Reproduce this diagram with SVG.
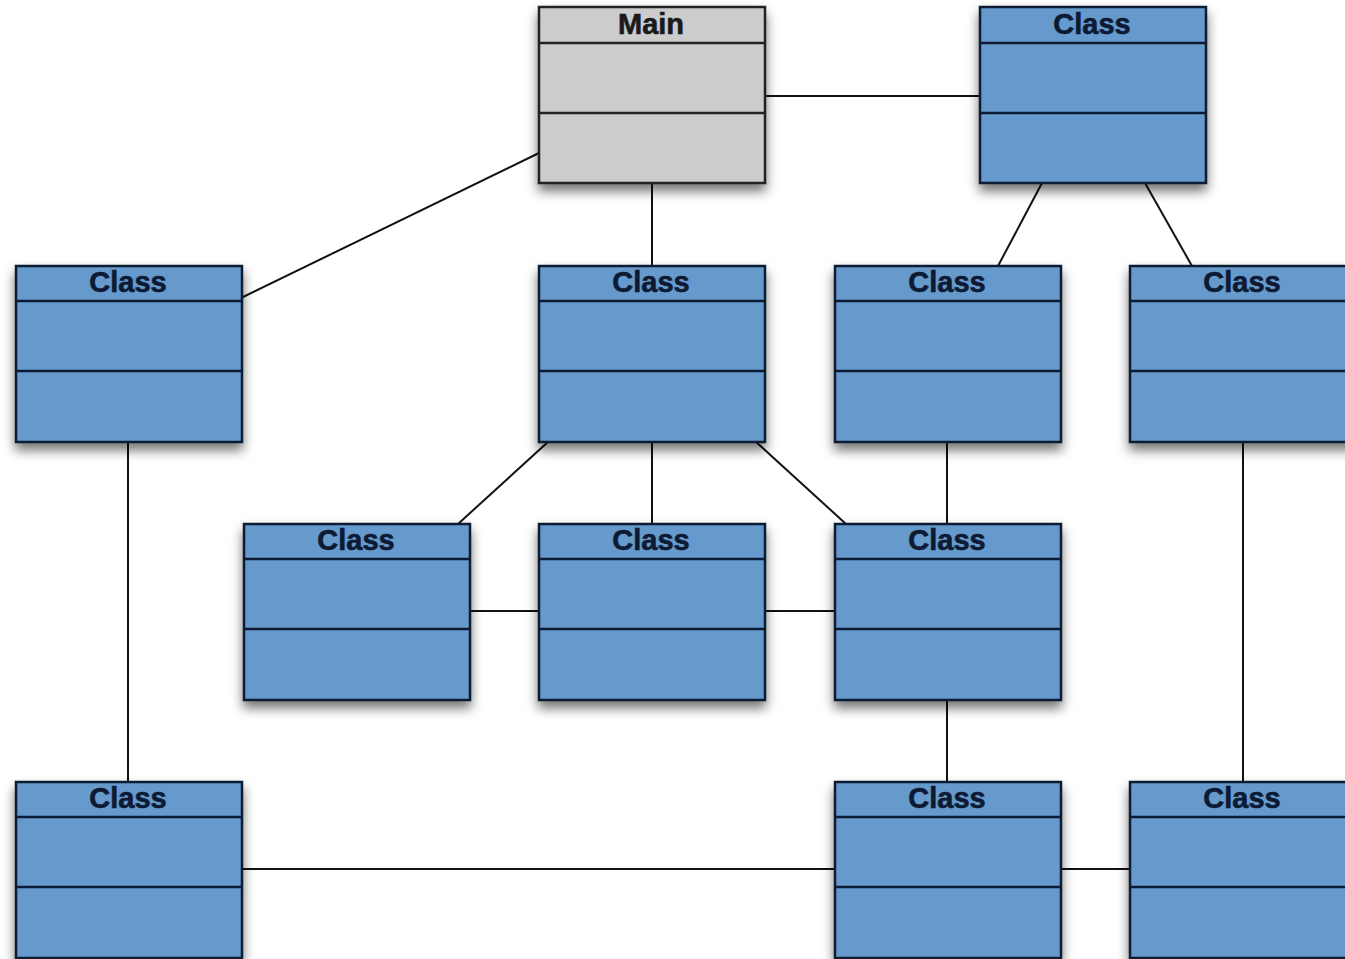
<svg xmlns="http://www.w3.org/2000/svg" width="1345" height="959" viewBox="0 0 1345 959">
<defs>
<filter id="sh" x="-10%" y="-10%" width="120%" height="130%">
<feDropShadow dx="0" dy="7" stdDeviation="6" flood-color="#000" flood-opacity="0.55"/>
</filter>
<style>
.box{fill:#6699cc;stroke:#0d1a33;stroke-width:2.5}
.main .box{fill:#cccccc;stroke:#222}
.div{stroke:#0d1a33;stroke-width:2.5}
.main .div{stroke:#222}
.t{font-family:"Liberation Sans",Arial,sans-serif;font-weight:bold;font-size:29px;fill:#0d1a33;stroke:#0d1a33;stroke-width:0.6px;text-anchor:middle}
.main .t{fill:#1a1a1a;stroke:#1a1a1a}
.c line{stroke:#111;stroke-width:2;fill:none}
</style>
</defs>
<rect width="1345" height="959" fill="#fff"/>
<g class="c" id="connectors">
<line x1="765" y1="96" x2="980" y2="96"/>
<line x1="539" y1="153" x2="241" y2="298"/>
<line x1="652" y1="183" x2="652" y2="266"/>
<line x1="1042" y1="183" x2="998" y2="266"/>
<line x1="1145" y1="183" x2="1192" y2="266"/>
<line x1="128" y1="441" x2="128" y2="782"/>
<line x1="549" y1="441" x2="458" y2="524"/>
<line x1="652" y1="441" x2="652" y2="524"/>
<line x1="755" y1="441" x2="846" y2="524"/>
<line x1="947" y1="441" x2="947" y2="524"/>
<line x1="1243" y1="441" x2="1243" y2="782"/>
<line x1="469" y1="611" x2="539" y2="611"/>
<line x1="765" y1="611" x2="835" y2="611"/>
<line x1="947" y1="699" x2="947" y2="782"/>
<line x1="241" y1="869" x2="835" y2="869"/>
<line x1="1060" y1="869" x2="1130" y2="869"/>
</g>
<g id="main" class="main" transform="translate(539,7)">
<rect class="box" width="226" height="176" filter="url(#sh)"/>
<line class="div" x1="0" y1="36" x2="226" y2="36"/>
<line class="div" x1="0" y1="106" x2="226" y2="106"/>
<text class="t" x="112" y="27">Main</text>
</g>
<g id="class1" transform="translate(980,7)">
<rect class="box" width="226" height="176" filter="url(#sh)"/>
<line class="div" x1="0" y1="36" x2="226" y2="36"/>
<line class="div" x1="0" y1="106" x2="226" y2="106"/>
<text class="t" x="112" y="27">Class</text>
</g>
<g id="class2" transform="translate(16,266)">
<rect class="box" width="226" height="176" filter="url(#sh)"/>
<line class="div" x1="0" y1="35" x2="226" y2="35"/>
<line class="div" x1="0" y1="105" x2="226" y2="105"/>
<text class="t" x="112" y="26">Class</text>
</g>
<g id="class3" transform="translate(539,266)">
<rect class="box" width="226" height="176" filter="url(#sh)"/>
<line class="div" x1="0" y1="35" x2="226" y2="35"/>
<line class="div" x1="0" y1="105" x2="226" y2="105"/>
<text class="t" x="112" y="26">Class</text>
</g>
<g id="class4" transform="translate(835,266)">
<rect class="box" width="226" height="176" filter="url(#sh)"/>
<line class="div" x1="0" y1="35" x2="226" y2="35"/>
<line class="div" x1="0" y1="105" x2="226" y2="105"/>
<text class="t" x="112" y="26">Class</text>
</g>
<g id="class5" transform="translate(1130,266)">
<rect class="box" width="226" height="176" filter="url(#sh)"/>
<line class="div" x1="0" y1="35" x2="226" y2="35"/>
<line class="div" x1="0" y1="105" x2="226" y2="105"/>
<text class="t" x="112" y="26">Class</text>
</g>
<g id="class6" transform="translate(244,524)">
<rect class="box" width="226" height="176" filter="url(#sh)"/>
<line class="div" x1="0" y1="35" x2="226" y2="35"/>
<line class="div" x1="0" y1="105" x2="226" y2="105"/>
<text class="t" x="112" y="26">Class</text>
</g>
<g id="class7" transform="translate(539,524)">
<rect class="box" width="226" height="176" filter="url(#sh)"/>
<line class="div" x1="0" y1="35" x2="226" y2="35"/>
<line class="div" x1="0" y1="105" x2="226" y2="105"/>
<text class="t" x="112" y="26">Class</text>
</g>
<g id="class8" transform="translate(835,524)">
<rect class="box" width="226" height="176" filter="url(#sh)"/>
<line class="div" x1="0" y1="35" x2="226" y2="35"/>
<line class="div" x1="0" y1="105" x2="226" y2="105"/>
<text class="t" x="112" y="26">Class</text>
</g>
<g id="class9" transform="translate(16,782)">
<rect class="box" width="226" height="176" filter="url(#sh)"/>
<line class="div" x1="0" y1="35" x2="226" y2="35"/>
<line class="div" x1="0" y1="105" x2="226" y2="105"/>
<text class="t" x="112" y="26">Class</text>
</g>
<g id="class10" transform="translate(835,782)">
<rect class="box" width="226" height="176" filter="url(#sh)"/>
<line class="div" x1="0" y1="35" x2="226" y2="35"/>
<line class="div" x1="0" y1="105" x2="226" y2="105"/>
<text class="t" x="112" y="26">Class</text>
</g>
<g id="class11" transform="translate(1130,782)">
<rect class="box" width="226" height="176" filter="url(#sh)"/>
<line class="div" x1="0" y1="35" x2="226" y2="35"/>
<line class="div" x1="0" y1="105" x2="226" y2="105"/>
<text class="t" x="112" y="26">Class</text>
</g>
</svg>
